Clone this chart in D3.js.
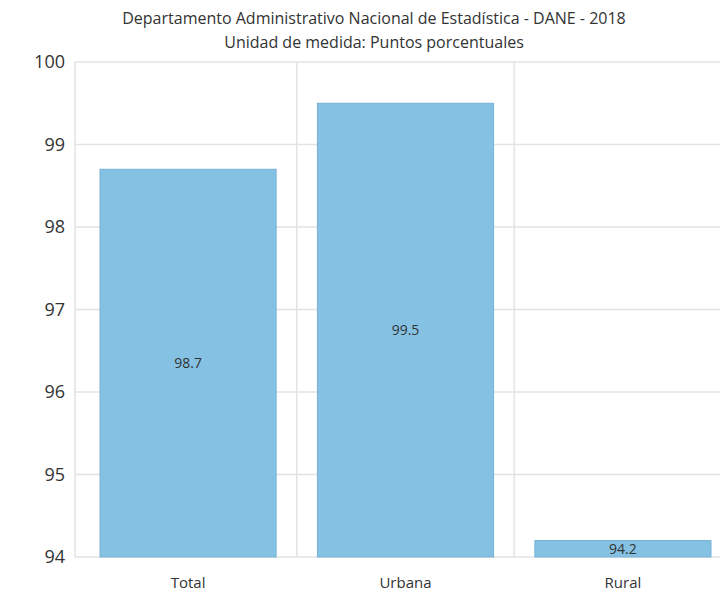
<!DOCTYPE html>
<html><head><meta charset="utf-8">
<script src="https://cdn.jsdelivr.net/npm/d3@7"></script>
<style>body{margin:0;background:#fff}svg{display:block}</style>
</head><body>
<svg id="c" width="720" height="599"></svg>
<script>
const categories = ["Total", "Urbana", "Rural"];
const values = [98.7, 99.5, 94.2];
const yTicks = [94, 95, 96, 97, 98, 99, 100];
const titleLines = ["Departamento Administrativo Nacional de Estadística - DANE - 2018", "Unidad de medida: Puntos porcentuales"];

const svg = d3.select("#c");
const font = "'Open Sans', sans-serif";
const mLeft = 75, mRight = 736, mTop = 62, mBottom = 557;

const x = d3.scaleBand().domain(categories).range([mLeft, mRight]).paddingInner(0.19).paddingOuter(0.115);
const y = d3.scaleLinear().domain([94, 100]).range([mBottom, mTop]);

// title
svg.selectAll("text.title").data(titleLines).join("text")
  .attr("class", "title")
  .attr("x", 374).attr("y", (d, i) => 24 + i * 24)
  .attr("text-anchor", "middle").attr("font-family", font).attr("font-size", 16)
  .attr("fill", "#333").text(d => d);

// horizontal grid
svg.append("g").selectAll("line").data(yTicks).join("line")
  .attr("x1", mLeft).attr("x2", 720).attr("y1", d => y(d)).attr("y2", d => y(d))
  .attr("stroke", "#e3e3e3").attr("stroke-width", 1.5);

// vertical grid: plot edge and between bands
const half = x.step() * x.paddingInner() / 2;
const vLines = [mLeft].concat(categories.slice(1).map(c => x(c) - half));
svg.append("g").selectAll("line").data(vLines).join("line")
  .attr("x1", d => d).attr("x2", d => d).attr("y1", mTop).attr("y2", mBottom)
  .attr("stroke", "#e3e3e3").attr("stroke-width", 1.5);

// y axis labels
const yAxis = d3.axisLeft(y).tickValues(yTicks).tickSize(0).tickPadding(10).tickFormat(d3.format("d"));
const gy = svg.append("g").attr("transform", `translate(${mLeft},0)`).call(yAxis);
gy.select(".domain").remove();
gy.selectAll("text").attr("font-family", font).attr("font-size", 18).attr("fill", "#333");

// x axis labels
const xAxis = d3.axisBottom(x).tickSize(0).tickPadding(20);
const gx = svg.append("g").attr("transform", `translate(0,${mBottom})`).call(xAxis);
gx.select(".domain").remove();
gx.selectAll("text").attr("font-family", font).attr("font-size", 15).attr("fill", "#333");

// bars
svg.append("g").selectAll("rect").data(values).join("rect")
  .attr("x", (d, i) => x(categories[i])).attr("width", x.bandwidth())
  .attr("y", d => y(d)).attr("height", d => mBottom - y(d))
  .attr("fill", "#85c1e3").attr("stroke", "#78b3d6").attr("stroke-width", 1);

// value labels
svg.append("g").selectAll("text").data(values).join("text")
  .attr("x", (d, i) => x(categories[i]) + x.bandwidth() / 2)
  .attr("y", d => (y(d) + mBottom) / 2)
  .attr("dy", "0.35em").attr("text-anchor", "middle")
  .attr("font-family", font).attr("font-size", 14).attr("fill", "#333")
  .text(d => d3.format(".1f")(d));
</script>
</body></html>
